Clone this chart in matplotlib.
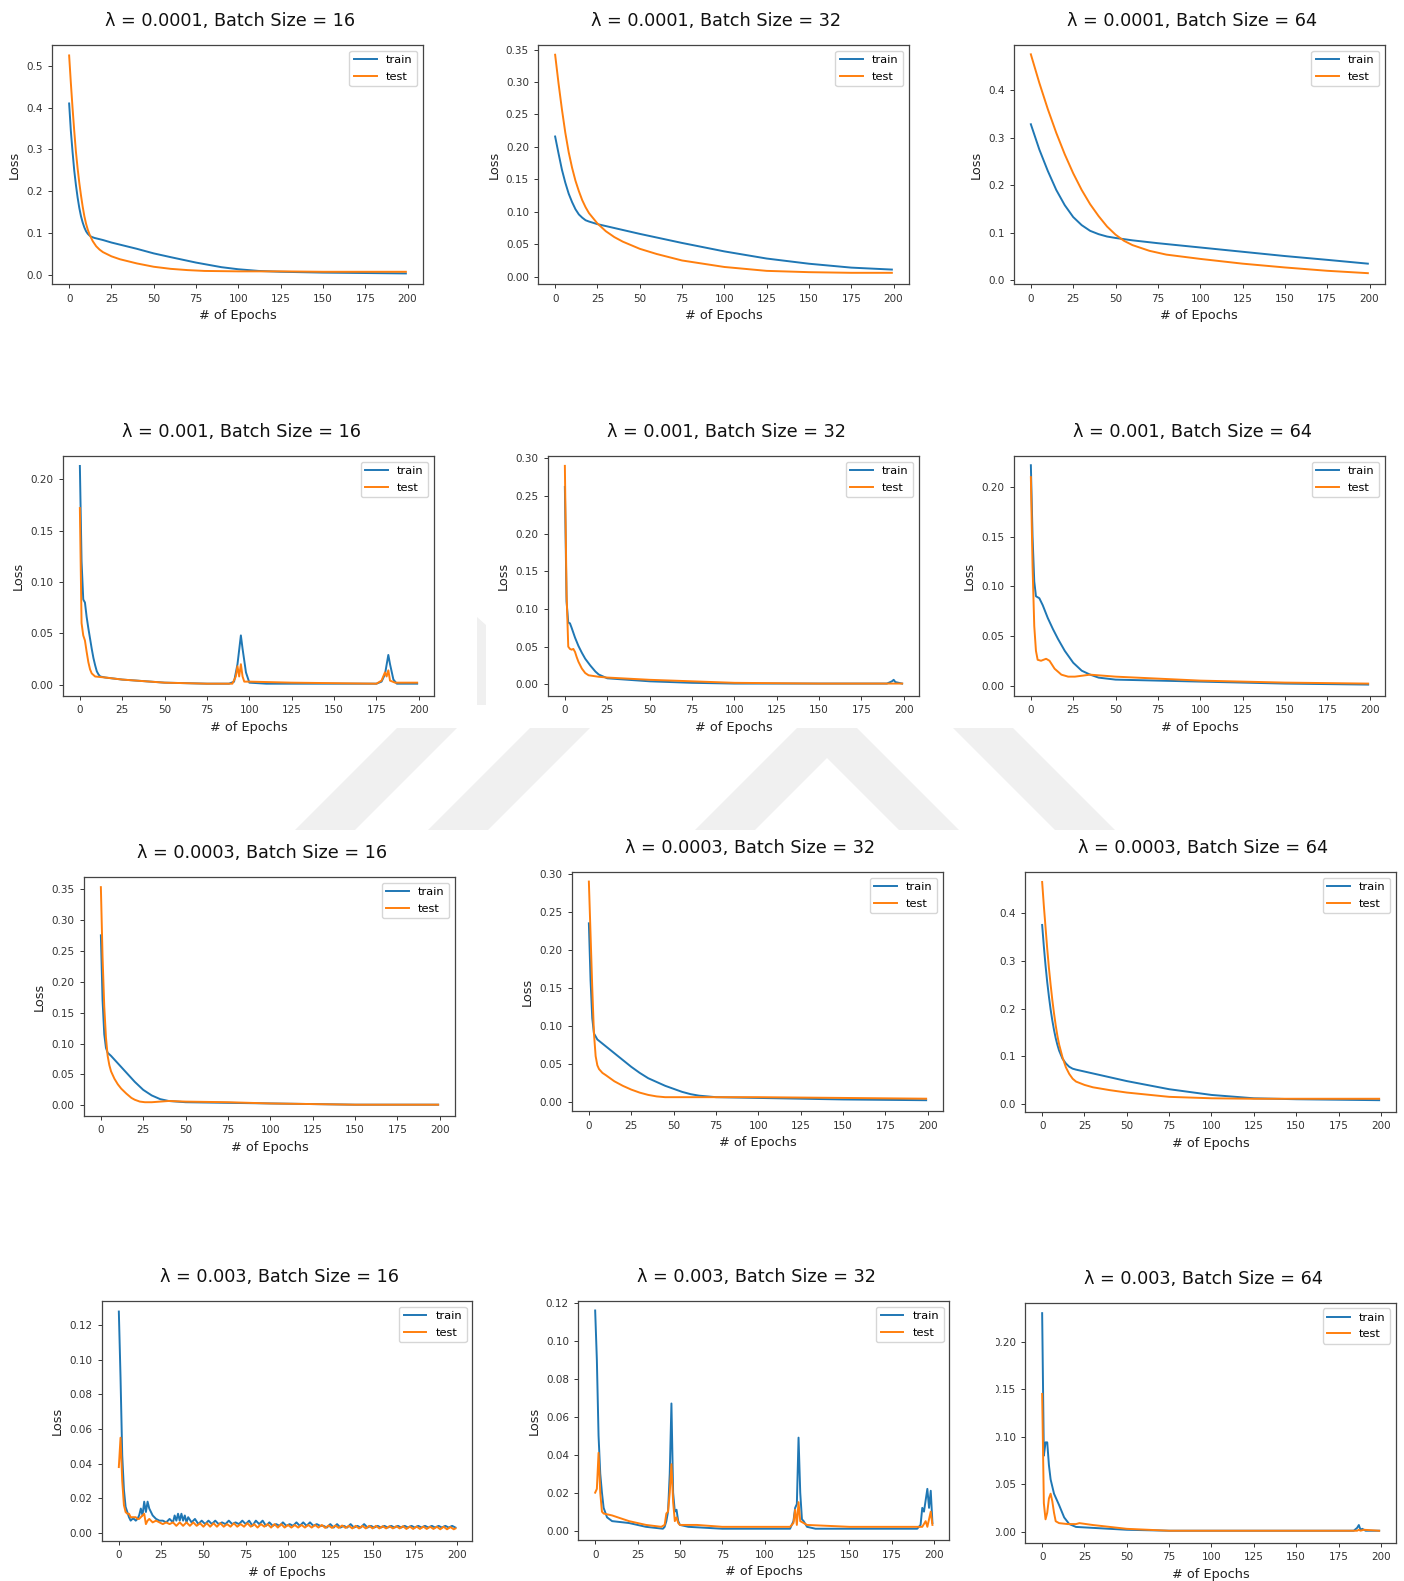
import matplotlib
matplotlib.use('Agg')
import matplotlib.pyplot as plt
from matplotlib.patches import Polygon, Rectangle
from matplotlib.ticker import MultipleLocator

W, H = 1404, 1581

# (epoch, loss) pairs
train_1e4_16 = [(0, .41), (1, .345), (2, .295), (3, .25), (4, .215), (5, .185), (6, .16), (7, .14),
                (8, .125), (9, .113), (10, .104), (11, .098), (12, .094), (13, .091), (15, .088),
                (20, .083), (25, .077), (30, .072), (40, .062), (50, .051), (60, .042), (75, .029),
                (90, .018), (100, .013), (112, .009), (125, .007), (150, .005), (175, .004), (199, .003)]
test_1e4_16 = [(0, .525), (1, .46), (2, .40), (3, .345), (4, .295), (5, .255), (6, .22), (7, .19),
               (8, .163), (9, .14), (10, .122), (11, .108), (12, .097), (13, .088), (14, .08), (16, .068),
               (18, .06), (20, .054), (25, .044), (30, .037), (40, .027), (50, .019), (60, .014),
               (70, .011), (80, .009), (100, .008), (125, .008), (150, .007), (199, .007)]

train_1e4_32 = [(0, .216), (2, .19), (4, .165), (6, .145), (8, .128), (10, .115), (12, .104), (14, .096),
                (16, .091), (18, .087), (20, .085), (25, .081), (30, .078), (40, .072), (50, .066),
                (75, .052), (100, .039), (125, .028), (150, .02), (175, .014), (199, .011)]
test_1e4_32 = [(0, .342), (2, .298), (4, .258), (6, .222), (8, .192), (10, .168), (12, .148), (14, .132),
               (16, .118), (18, .107), (20, .098), (25, .082), (30, .07), (35, .061), (40, .054), (50, .043),
               (60, .035), (75, .025), (100, .015), (125, .009), (150, .007), (175, .006), (199, .006)]

train_1e4_64 = [(0, .328), (5, .275), (10, .23), (15, .19), (20, .158), (25, .133), (30, .116), (35, .104),
                (40, .097), (45, .092), (50, .089), (60, .084), (75, .078), (100, .069), (125, .06),
                (150, .051), (175, .043), (199, .035)]
test_1e4_64 = [(0, .475), (5, .415), (10, .36), (15, .31), (20, .265), (25, .225), (30, .19), (35, .16),
               (40, .135), (45, .113), (50, .096), (55, .083), (60, .074), (70, .062), (80, .054),
               (100, .045), (125, .035), (150, .027), (175, .02), (199, .015)]

train_1e3_16 = [(0, .213), (1, .12), (2, .083), (3, .08), (4, .066), (5, .055), (6, .045), (7, .035),
                (8, .026), (9, .019), (10, .013), (11, .01), (12, .008), (15, .007), (25, .005), (50, .002),
                (75, .001), (88, .001), (91, .003), (93, .02), (95, .048), (96, .035), (98, .012),
                (100, .002), (110, .001), (150, .001), (175, .001), (178, .003), (180, .01), (182, .029),
                (183, .02), (185, .005), (187, .001), (199, .001)]
test_1e3_16 = [(0, .172), (1, .06), (2, .048), (3, .043), (4, .032), (5, .022), (6, .015), (7, .011),
               (9, .008), (15, .007), (25, .005), (50, .002), (75, .001), (90, .001), (92, .008),
               (93, .018), (94, .008), (95, .02), (96, .008), (97, .003), (100, .003), (125, .002),
               (175, .001), (178, .004), (180, .012), (181, .008), (182, .014), (183, .004), (186, .002),
               (199, .002)]

train_1e3_32 = [(0, .262), (1, .11), (2, .082), (3, .081), (4, .075), (6, .062), (8, .051), (10, .042),
                (12, .034), (15, .025), (18, .017), (20, .013), (25, .008), (50, .004), (75, .002),
                (100, .001), (150, .001), (190, .001), (192, .003), (193, .004), (194, .006), (195, .003),
                (197, .002), (199, .001)]
test_1e3_32 = [(0, .29), (1, .12), (2, .05), (3, .047), (4, .046), (5, .047), (6, .043), (7, .036),
               (8, .03), (10, .021), (12, .015), (14, .012), (20, .01), (25, .009), (50, .006), (75, .004),
               (100, .002), (150, .001), (190, .001), (199, .001)]

train_1e3_64 = [(0, .222), (1, .15), (2, .105), (3, .09), (5, .088), (7, .081), (10, .068), (13, .057),
                (16, .047), (20, .035), (25, .023), (30, .015), (35, .011), (40, .008), (50, .006),
                (75, .005), (100, .004), (150, .002), (199, .001)]
test_1e3_64 = [(0, .21), (1, .12), (2, .06), (3, .035), (4, .026), (6, .025), (9, .027), (11, .025),
               (14, .017), (18, .011), (22, .009), (26, .009), (35, .011), (50, .009), (75, .007),
               (100, .005), (150, .003), (199, .002)]

train_3e4_16 = [(0, .275), (1, .17), (2, .115), (3, .093), (4, .085), (6, .08), (10, .068), (15, .053),
                (20, .038), (25, .025), (30, .016), (35, .01), (40, .007), (50, .005), (75, .004),
                (100, .003), (150, .001), (199, .001)]
test_3e4_16 = [(0, .353), (1, .24), (2, .16), (3, .11), (4, .08), (5, .065), (6, .055), (8, .043),
               (10, .034), (12, .027), (15, .019), (18, .012), (20, .009), (23, .006), (26, .005),
               (30, .005), (35, .006), (40, .007), (50, .006), (75, .005), (100, .003), (150, .001),
               (199, .001)]

train_3e4_32 = [(0, .235), (1, .16), (2, .11), (3, .09), (5, .082), (10, .073), (15, .064), (20, .055),
                (25, .046), (30, .038), (35, .031), (40, .026), (45, .021), (50, .017), (55, .013),
                (60, .01), (65, .008), (75, .006), (100, .005), (150, .003), (199, .002)]
test_3e4_32 = [(0, .29), (1, .22), (2, .15), (3, .09), (4, .06), (5, .048), (6, .043), (8, .038),
               (10, .035), (15, .027), (20, .021), (25, .016), (30, .012), (35, .009), (40, .007),
               (45, .006), (75, .006), (100, .006), (150, .005), (199, .004)]

train_3e4_64 = [(0, .375), (1, .33), (2, .29), (3, .255), (4, .225), (5, .198), (6, .175), (7, .155),
                (8, .138), (9, .124), (10, .112), (12, .095), (14, .085), (16, .078), (18, .074),
                (20, .072), (25, .068), (50, .048), (75, .031), (100, .019), (125, .012), (150, .01),
                (175, .009), (199, .008)]
test_3e4_64 = [(0, .465), (1, .415), (2, .37), (3, .325), (4, .285), (5, .25), (6, .218), (7, .19),
               (8, .165), (9, .143), (10, .125), (12, .098), (14, .077), (16, .063), (18, .053), (20, .047),
               (25, .04), (30, .035), (40, .029), (50, .024), (75, .015), (100, .012), (125, .011),
               (150, .011), (199, .011)]

train_3e3_16 = [(0, .128), (1, .09), (2, .045), (3, .025), (4, .015), (5, .012), (6, .009), (7, .007),
                (8, .008), (9, .008), (10, .007), (11, .008), (12, .01), (13, .014), (14, .01), (15, .018),
                (16, .012), (17, .018), (18, .014), (20, .01), (22, .008), (24, .007), (26, .007),
                (28, .006), (30, .008), (32, .006), (33, .01), (34, .007), (35, .011), (36, .007),
                (37, .011), (38, .007), (39, .01), (40, .006), (41, .009), (43, .006), (45, .008),
                (47, .005), (49, .007), (51, .005), (53, .007), (55, .005), (57, .007), (59, .005),
                (61, .006), (63, .005), (65, .007), (67, .005), (69, .006), (71, .005), (73, .007),
                (75, .005), (77, .007), (79, .004), (81, .007), (83, .005), (85, .007), (87, .004),
                (89, .006), (91, .004), (93, .005), (95, .004), (97, .006), (99, .004), (101, .005),
                (103, .004), (105, .006), (107, .004), (109, .006), (111, .004), (113, .006), (115, .004),
                (117, .005), (119, .004), (121, .004), (123, .003), (125, .005), (127, .003), (129, .005),
                (131, .003), (133, .004), (135, .003), (137, .005), (139, .003), (141, .004), (143, .003),
                (145, .005), (147, .003), (149, .004), (151, .003), (153, .004), (155, .003), (157, .004),
                (159, .003), (161, .004), (163, .003), (165, .004), (167, .003), (169, .004), (171, .003),
                (173, .004), (175, .003), (177, .004), (179, .003), (181, .004), (183, .003), (185, .004),
                (187, .003), (189, .004), (191, .003), (193, .004), (195, .003), (197, .004), (199, .003)]
test_3e3_16 = [(0, .038), (1, .055), (2, .03), (3, .016), (4, .012), (5, .011), (6, .011), (7, .009),
               (8, .009), (9, .009), (10, .009), (11, .008), (12, .008), (13, .009), (14, .010), (15, .011),
               (16, .005), (17, .007), (18, .008), (19, .007), (20, .006), (22, .007), (24, .006),
               (26, .005), (28, .006), (30, .005), (32, .006), (34, .004), (36, .006), (38, .004),
               (40, .006), (42, .004), (44, .006), (46, .004), (48, .0055), (50, .0035), (52, .0055),
               (54, .0035), (56, .0055), (58, .0035), (60, .0055), (62, .0035), (64, .005), (66, .0035),
               (68, .0055), (70, .0035), (72, .005), (74, .0035), (76, .0055), (78, .0035), (80, .005),
               (82, .003), (84, .005), (86, .0035), (88, .005), (90, .003), (92, .005), (94, .003),
               (96, .005), (98, .003), (100, .0045), (102, .003), (104, .0045), (106, .003), (108, .0045),
               (110, .003), (112, .0045), (114, .003), (116, .0045), (118, .003), (120, .0045), (122, .0028),
               (124, .0042), (126, .0028), (128, .0042), (130, .0028), (132, .0042), (134, .0028),
               (136, .004), (138, .0025), (140, .004), (142, .0025), (144, .004), (146, .0025), (148, .004),
               (150, .0025), (152, .004), (154, .0025), (156, .0038), (158, .0025), (160, .0038),
               (162, .0025), (164, .0038), (166, .0025), (168, .0038), (170, .0022), (172, .0036),
               (174, .0022), (176, .0036), (178, .0022), (180, .0036), (182, .0022), (184, .0035),
               (186, .0022), (188, .0035), (190, .002), (192, .0035), (194, .002), (196, .0033),
               (198, .002), (199, .0025)]

train_3e3_32 = [(0, .116), (1, .09), (2, .05), (3, .03), (4, .02), (5, .012), (7, .007), (10, .005),
                (20, .004), (30, .002), (40, .001), (41, .002), (42, .005), (43, .01), (44, .03), (45, .067),
                (46, .02), (47, .01), (48, .011), (49, .005), (50, .003), (55, .002), (75, .001), (100, .001),
                (115, .001), (117, .005), (118, .012), (119, .014), (120, .049), (121, .02), (122, .006),
                (123, .005), (125, .002), (130, .001), (150, .001), (190, .001), (192, .003), (193, .012),
                (194, .01), (196, .022), (197, .012), (198, .021), (199, .004)]
test_3e3_32 = [(0, .02), (1, .022), (2, .041), (3, .02), (4, .01), (5, .009), (10, .008), (20, .005),
               (30, .003), (39, .002), (41, .003), (42, .009), (43, .01), (44, .02), (45, .035), (46, .015),
               (47, .005), (48, .007), (49, .004), (50, .003), (60, .003), (75, .002), (100, .002),
               (115, .002), (117, .004), (118, .011), (119, .003), (120, .015), (121, .005), (123, .004),
               (125, .003), (150, .002), (190, .002), (193, .002), (195, .005), (196, .002), (198, .01),
               (199, .003)]

train_3e3_64 = [(0, .23), (1, .08), (2, .094), (3, .094), (4, .07), (5, .055), (7, .04), (10, .028),
                (13, .015), (16, .008), (20, .005), (30, .004), (50, .002), (75, .001), (100, .001),
                (184, .001), (186, .004), (187, .007), (188, .002), (189, .003), (191, .001), (199, .001)]
test_3e3_64 = [(0, .145), (1, .03), (2, .013), (3, .02), (4, .035), (5, .04), (6, .032), (7, .02),
               (8, .011), (10, .009), (15, .008), (20, .008), (22, .009), (30, .007), (50, .003),
               (75, .001), (100, .001), (186, .001), (187, .002), (188, .001), (190, .002), (199, .001)]

titles = ["λ = 0.0001, Batch Size = 16", "λ = 0.0001, Batch Size = 32", "λ = 0.0001, Batch Size = 64",
          "λ = 0.001, Batch Size = 16", "λ = 0.001, Batch Size = 32", "λ = 0.001, Batch Size = 64",
          "λ = 0.0003, Batch Size = 16", "λ = 0.0003, Batch Size = 32", "λ = 0.0003, Batch Size = 64",
          "λ = 0.003, Batch Size = 16", "λ = 0.003, Batch Size = 32", "λ = 0.003, Batch Size = 64"]
trains = [train_1e4_16, train_1e4_32, train_1e4_64, train_1e3_16, train_1e3_32, train_1e3_64,
          train_3e4_16, train_3e4_32, train_3e4_64, train_3e3_16, train_3e3_32, train_3e3_64]
tests = [test_1e4_16, test_1e4_32, test_1e4_64, test_1e3_16, test_1e3_32, test_1e3_64,
         test_3e4_16, test_3e4_32, test_3e4_64, test_3e3_16, test_3e3_32, test_3e3_64]
x_ticks = [0, 25, 50, 75, 100, 125, 150, 175, 200]

# axes box in pixels (left, top, right, bottom), y limits, y tick step, show ylabel
layout = [
    ((52.3, 45, 422.7, 284.3), (-0.023, 0.550), 0.1, True),
    ((538.3, 45, 908.7, 284.3), (-0.0117, 0.357), 0.05, True),
    ((1014, 45, 1384.7, 284.3), (-0.0084, 0.4946), 0.1, True),
    ((63, 456, 434, 695.7), (-0.0107, 0.2227), 0.05, True),
    ((548, 456, 919, 695.7), (-0.0151, 0.3031), 0.05, True),
    ((1014, 456, 1385, 696), (-0.0105, 0.2313), 0.05, True),
    ((84, 877, 455, 1116), (-0.0173, 0.3694), 0.05, True),
    ((572, 872, 943, 1111.3), (-0.0126, 0.3026), 0.05, True),
    ((1025.3, 872, 1396, 1111.7), (-0.0161, 0.4859), 0.1, False),
    ((102, 1301, 472.3, 1540.7), (-0.0046, 0.1341), 0.02, True),
    ((578.3, 1301, 949.3, 1540.3), (-0.0051, 0.121), 0.02, True),
    ((1025.3, 1302.7, 1396, 1542.7), (-0.0116, 0.241), 0.05, False),
]


def fig_xy(pts):
    return [(x / W, 1 - y / H) for x, y in pts]


def main():
    fig = plt.figure(figsize=(W / 100, H / 100), dpi=100)

    # faint background watermark
    wm = '#f0f0f0'
    shapes = [
        [(295, 830), (355, 830), (457, 728), (397, 728)],
        [(428, 830), (488, 830), (590, 728), (530, 728)],
        [(695, 830), (797, 728), (857, 728), (959, 830), (899, 830), (827, 758), (755, 830)],
        [(953, 728), (1013, 728), (1115, 830), (1055, 830)],
        [(477, 617), (486, 625), (486, 705), (477, 705)],
    ]
    for s in shapes:
        fig.add_artist(Polygon(fig_xy(s), closed=True, facecolor=wm, edgecolor='none',
                               transform=fig.transFigure, zorder=-1))

    for title, tr, te, (box, ylim, ystep, ylab) in zip(titles, trains, tests, layout):
        l, t, r, b = box
        ax = fig.add_axes([l / W, 1 - b / H, (r - l) / W, (b - t) / H])
        ax.plot(*zip(*tr), color='#1f77b4', lw=1.4, label='train')
        ax.plot(*zip(*te), color='#ff7f0e', lw=1.4, label='test')
        ax.set_xlim(-9.95, 208.95)
        ax.set_ylim(*ylim)
        ax.set_xticks(x_ticks)
        ax.yaxis.set_major_locator(MultipleLocator(ystep))
        ax.tick_params(labelsize=7.5, length=3.2, width=0.7, colors='#333333')
        for sp in ax.spines.values():
            sp.set_color('#444444')
            sp.set_linewidth(0.9)
        ax.set_xlabel("# of Epochs", fontsize=9.3, color='#222222')
        if ylab:
            ax.set_ylabel("Loss", fontsize=9.3, color='#222222')
        ax.set_title(title, fontsize=12.7, pad=13.7, x=0.48, color='#111111')
        ax.legend(loc='upper right', fontsize=8.2, labelspacing=0.55)

    # last panel was cropped on its left side in the source image
    fig.add_artist(Rectangle((952 / W, 0), (996 - 952) / W, 1 - 1290 / H, facecolor='white',
                             edgecolor='none', transform=fig.transFigure, zorder=5))

    fig.savefig("out.png", dpi=100)


if __name__ == "__main__":
    main()
